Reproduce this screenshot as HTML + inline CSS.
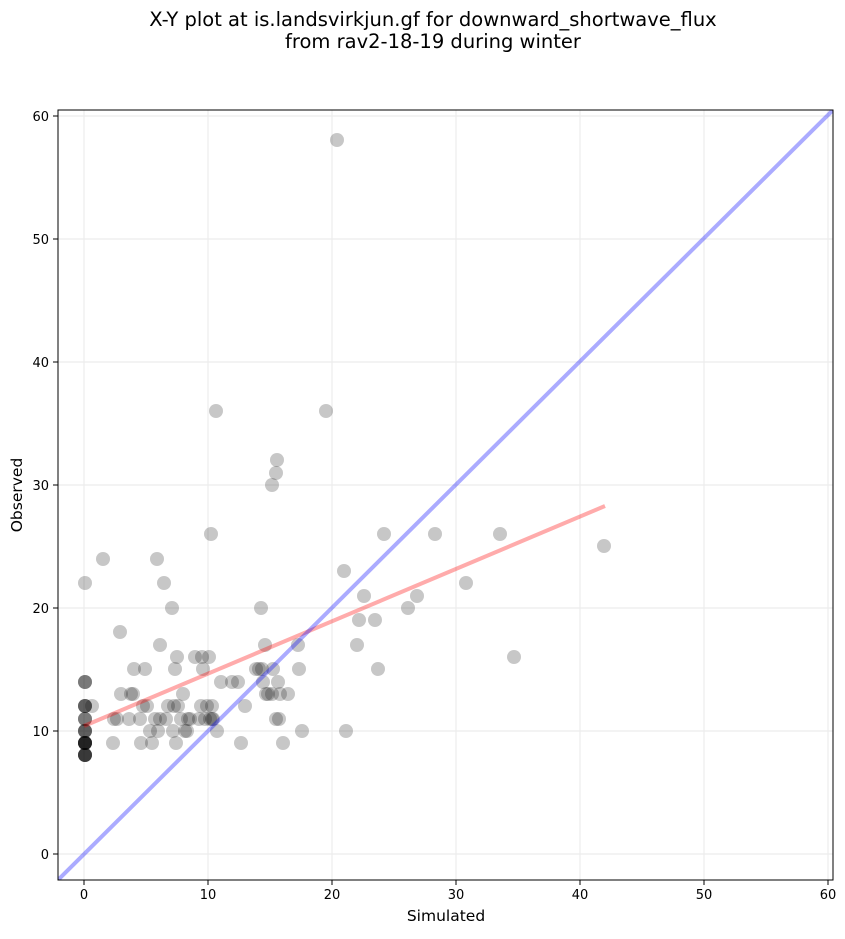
<!DOCTYPE html>
<html><head><meta charset="utf-8"><style>
body{margin:0;background:#fff;}
text{font-family:"DejaVu Sans","Liberation Sans",sans-serif;}
</style></head><body>
<svg width="845" height="934" xmlns="http://www.w3.org/2000/svg">
<rect width="845" height="934" fill="#fff"/>
<text x="433" y="26" font-size="19.5" text-anchor="middle">X-Y plot at is.landsvirkjun.gf for downward_shortwave_flux</text>
<text x="433" y="48" font-size="19.5" text-anchor="middle">from rav2-18-19 during winter</text>
<defs><clipPath id="c"><rect x="58" y="110" width="775" height="770"/></clipPath></defs>
<g stroke="#ececec" stroke-width="1.2">
<line x1="84" y1="110" x2="84" y2="880"/><line x1="208" y1="110" x2="208" y2="880"/><line x1="332" y1="110" x2="332" y2="880"/><line x1="456" y1="110" x2="456" y2="880"/><line x1="580" y1="110" x2="580" y2="880"/><line x1="704" y1="110" x2="704" y2="880"/><line x1="828" y1="110" x2="828" y2="880"/>
<line x1="58" y1="854" x2="833" y2="854"/><line x1="58" y1="731" x2="833" y2="731"/><line x1="58" y1="608" x2="833" y2="608"/><line x1="58" y1="485" x2="833" y2="485"/><line x1="58" y1="362" x2="833" y2="362"/><line x1="58" y1="239" x2="833" y2="239"/><line x1="58" y1="116" x2="833" y2="116"/>
</g>
<g clip-path="url(#c)">
<g fill="#000" fill-opacity="0.22" stroke="none">
<circle cx="85" cy="682" r="7"/><circle cx="85" cy="682" r="7"/><circle cx="85" cy="682" r="7"/>
<circle cx="85" cy="706" r="7"/><circle cx="85" cy="706" r="7"/><circle cx="85" cy="706" r="7"/><circle cx="85" cy="706" r="7"/>
<circle cx="85" cy="719" r="7"/><circle cx="85" cy="719" r="7"/><circle cx="85" cy="719" r="7"/>
<circle cx="85" cy="731" r="7"/><circle cx="85" cy="731" r="7"/><circle cx="85" cy="731" r="7"/><circle cx="85" cy="731" r="7"/>
<circle cx="85" cy="743" r="7"/><circle cx="85" cy="743" r="7"/><circle cx="85" cy="743" r="7"/><circle cx="85" cy="743" r="7"/><circle cx="85" cy="743" r="7"/><circle cx="85" cy="743" r="7"/><circle cx="85" cy="743" r="7"/><circle cx="85" cy="743" r="7"/>
<circle cx="85" cy="755" r="7"/><circle cx="85" cy="755" r="7"/><circle cx="85" cy="755" r="7"/><circle cx="85" cy="755" r="7"/><circle cx="85" cy="755" r="7"/><circle cx="85" cy="755" r="7"/>
<circle cx="85" cy="583" r="7"/><circle cx="92" cy="706" r="7"/><circle cx="103" cy="559" r="7"/><circle cx="113" cy="743" r="7"/><circle cx="114" cy="719" r="7"/><circle cx="117" cy="719" r="7"/><circle cx="120" cy="632" r="7"/><circle cx="121" cy="694" r="7"/><circle cx="129" cy="719" r="7"/><circle cx="131" cy="694" r="7"/><circle cx="133" cy="694" r="7"/><circle cx="134" cy="669" r="7"/><circle cx="140" cy="719" r="7"/><circle cx="141" cy="743" r="7"/><circle cx="143" cy="706" r="7"/><circle cx="145" cy="669" r="7"/><circle cx="147" cy="706" r="7"/><circle cx="150" cy="731" r="7"/><circle cx="152" cy="743" r="7"/><circle cx="155" cy="719" r="7"/><circle cx="157" cy="559" r="7"/><circle cx="158" cy="731" r="7"/><circle cx="160" cy="645" r="7"/><circle cx="160" cy="719" r="7"/><circle cx="164" cy="583" r="7"/><circle cx="166" cy="719" r="7"/><circle cx="168" cy="706" r="7"/><circle cx="172" cy="608" r="7"/><circle cx="173" cy="731" r="7"/><circle cx="174" cy="706" r="7"/><circle cx="175" cy="669" r="7"/><circle cx="176" cy="743" r="7"/><circle cx="177" cy="657" r="7"/><circle cx="178" cy="706" r="7"/><circle cx="181" cy="719" r="7"/><circle cx="183" cy="694" r="7"/><circle cx="185" cy="731" r="7"/><circle cx="187" cy="731" r="7"/><circle cx="188" cy="719" r="7"/><circle cx="190" cy="719" r="7"/><circle cx="195" cy="657" r="7"/><circle cx="199" cy="719" r="7"/><circle cx="201" cy="706" r="7"/><circle cx="202" cy="657" r="7"/><circle cx="203" cy="669" r="7"/><circle cx="205" cy="719" r="7"/><circle cx="207" cy="706" r="7"/><circle cx="209" cy="657" r="7"/><circle cx="210" cy="719" r="7"/><circle cx="211" cy="534" r="7"/><circle cx="212" cy="719" r="7"/><circle cx="212" cy="706" r="7"/><circle cx="213" cy="719" r="7"/><circle cx="216" cy="411" r="7"/><circle cx="217" cy="731" r="7"/><circle cx="221" cy="682" r="7"/><circle cx="232" cy="682" r="7"/><circle cx="238" cy="682" r="7"/><circle cx="241" cy="743" r="7"/><circle cx="245" cy="706" r="7"/><circle cx="256" cy="669" r="7"/><circle cx="259" cy="669" r="7"/><circle cx="261" cy="608" r="7"/><circle cx="262" cy="669" r="7"/><circle cx="263" cy="682" r="7"/><circle cx="265" cy="645" r="7"/><circle cx="266" cy="694" r="7"/><circle cx="268" cy="694" r="7"/><circle cx="272" cy="694" r="7"/><circle cx="273" cy="669" r="7"/><circle cx="272" cy="485" r="7"/><circle cx="276" cy="473" r="7"/><circle cx="277" cy="460" r="7"/><circle cx="276" cy="719" r="7"/><circle cx="278" cy="682" r="7"/><circle cx="279" cy="719" r="7"/><circle cx="280" cy="694" r="7"/><circle cx="283" cy="743" r="7"/><circle cx="288" cy="694" r="7"/><circle cx="298" cy="645" r="7"/><circle cx="299" cy="669" r="7"/><circle cx="302" cy="731" r="7"/><circle cx="326" cy="411" r="7"/><circle cx="337" cy="140" r="7"/><circle cx="344" cy="571" r="7"/><circle cx="346" cy="731" r="7"/><circle cx="357" cy="645" r="7"/><circle cx="359" cy="620" r="7"/><circle cx="364" cy="596" r="7"/><circle cx="375" cy="620" r="7"/><circle cx="378" cy="669" r="7"/><circle cx="384" cy="534" r="7"/><circle cx="408" cy="608" r="7"/><circle cx="417" cy="596" r="7"/><circle cx="435" cy="534" r="7"/><circle cx="466" cy="583" r="7"/><circle cx="500" cy="534" r="7"/><circle cx="514" cy="657" r="7"/><circle cx="604" cy="546" r="7"/>
</g>
<line x1="84" y1="726" x2="605" y2="506" stroke="#ff0000" stroke-opacity="0.33" stroke-width="4"/>
<line x1="58" y1="880" x2="833" y2="110" stroke="#0000ff" stroke-opacity="0.33" stroke-width="4"/>
</g>
<rect x="58" y="110" width="775" height="770" fill="none" stroke="#000" stroke-width="1"/>
<g stroke="#000"><line x1="84" y1="880" x2="84" y2="885"/><line x1="208" y1="880" x2="208" y2="885"/><line x1="332" y1="880" x2="332" y2="885"/><line x1="456" y1="880" x2="456" y2="885"/><line x1="580" y1="880" x2="580" y2="885"/><line x1="704" y1="880" x2="704" y2="885"/><line x1="828" y1="880" x2="828" y2="885"/>
<line x1="53" y1="854" x2="58" y2="854"/><line x1="53" y1="731" x2="58" y2="731"/><line x1="53" y1="608" x2="58" y2="608"/><line x1="53" y1="485" x2="58" y2="485"/><line x1="53" y1="362" x2="58" y2="362"/><line x1="53" y1="239" x2="58" y2="239"/><line x1="53" y1="116" x2="58" y2="116"/></g>
<g font-size="13" text-anchor="middle"><text x="84" y="899">0</text><text x="208" y="899">10</text><text x="332" y="899">20</text><text x="456" y="899">30</text><text x="580" y="899">40</text><text x="704" y="899">50</text><text x="828" y="899">60</text></g>
<g font-size="13" text-anchor="end"><text x="49" y="859">0</text><text x="49" y="736">10</text><text x="49" y="613">20</text><text x="49" y="490">30</text><text x="49" y="367">40</text><text x="49" y="244">50</text><text x="49" y="121">60</text></g>
<text x="446" y="921" font-size="15.5" text-anchor="middle">Simulated</text>
<text x="22" y="495" font-size="15.5" text-anchor="middle" transform="rotate(-90 22 495)">Observed</text>
</svg>
</body></html>
